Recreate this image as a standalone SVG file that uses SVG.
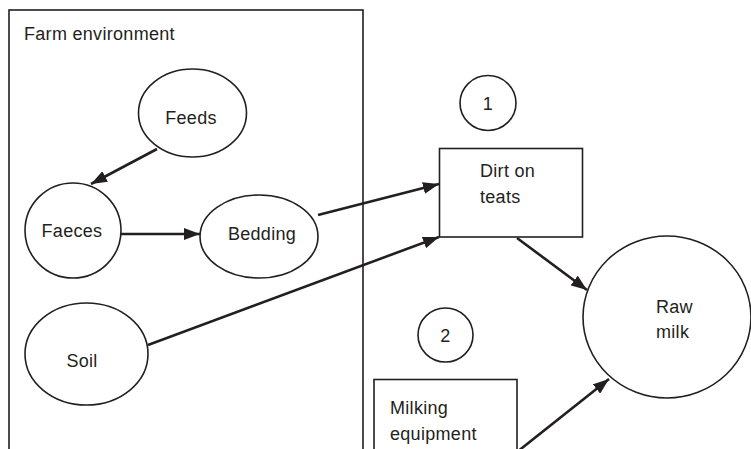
<svg xmlns="http://www.w3.org/2000/svg" width="751" height="449" viewBox="0 0 751 449">
<style>
.shape{fill:#fff;stroke:#231f20;stroke-width:1.6}
.frame{fill:none;stroke:#231f20;stroke-width:1.6}
.lbl{font-family:"Liberation Sans",Arial,sans-serif;font-size:18px;letter-spacing:0.3px;fill:#231f20}
.mid{text-anchor:middle}
.conn line{stroke:#231f20;stroke-width:2.6;marker-end:url(#ah)}
</style>
<defs>
<marker id="ah" markerUnits="userSpaceOnUse" markerWidth="16" markerHeight="12" refX="16" refY="6" orient="auto">
<path d="M0,0 L16,6 L0,12 z" fill="#231f20"/>
</marker>
</defs>
<rect width="751" height="449" fill="#fff"/>
<g id="farm-environment">
<rect class="frame" x="9" y="10" width="354" height="460"/>
<text class="lbl" x="24" y="40">Farm environment</text>
</g>
<g id="feeds">
<ellipse class="shape" cx="192.5" cy="113" rx="54" ry="44"/>
<text class="lbl mid" x="191" y="124">Feeds</text>
</g>
<g id="faeces">
<ellipse class="shape" cx="73" cy="230.5" rx="48" ry="47.5"/>
<text class="lbl mid" x="72" y="237">Faeces</text>
</g>
<g id="bedding">
<ellipse class="shape" cx="259" cy="236.5" rx="59" ry="41.5"/>
<text class="lbl mid" x="262" y="240">Bedding</text>
</g>
<g id="soil">
<ellipse class="shape" cx="86.5" cy="354" rx="61.5" ry="51"/>
<text class="lbl mid" x="82" y="367">Soil</text>
</g>
<g id="marker-1">
<ellipse class="shape" cx="488" cy="103" rx="28" ry="27.5"/>
<text class="lbl mid" x="488" y="110">1</text>
</g>
<g id="dirt-on-teats">
<rect class="shape" x="439.5" y="148.5" width="143" height="88.5"/>
<text class="lbl" x="480" y="177">Dirt on</text>
<text class="lbl" x="480" y="203">teats</text>
</g>
<g id="marker-2">
<ellipse class="shape" cx="445.5" cy="335" rx="27.5" ry="27"/>
<text class="lbl mid" x="445.5" y="342">2</text>
</g>
<g id="raw-milk">
<ellipse class="shape" cx="667" cy="317" rx="84" ry="81"/>
<text class="lbl" x="656" y="313">Raw</text>
<text class="lbl" x="656" y="338">milk</text>
</g>
<g id="milking-equipment">
<rect class="shape" x="374" y="379.5" width="143" height="90"/>
<text class="lbl" x="390" y="414">Milking</text>
<text class="lbl" x="390" y="440">equipment</text>
</g>
<g id="connectors" class="conn">
<line x1="157" y1="149" x2="91" y2="184"/>
<line x1="121" y1="234" x2="200" y2="234"/>
<line x1="318" y1="215" x2="439" y2="184"/>
<line x1="148" y1="345" x2="439" y2="237"/>
<line x1="517" y1="238" x2="587" y2="290"/>
<line x1="517" y1="452" x2="609" y2="379"/>
</g>
</svg>
